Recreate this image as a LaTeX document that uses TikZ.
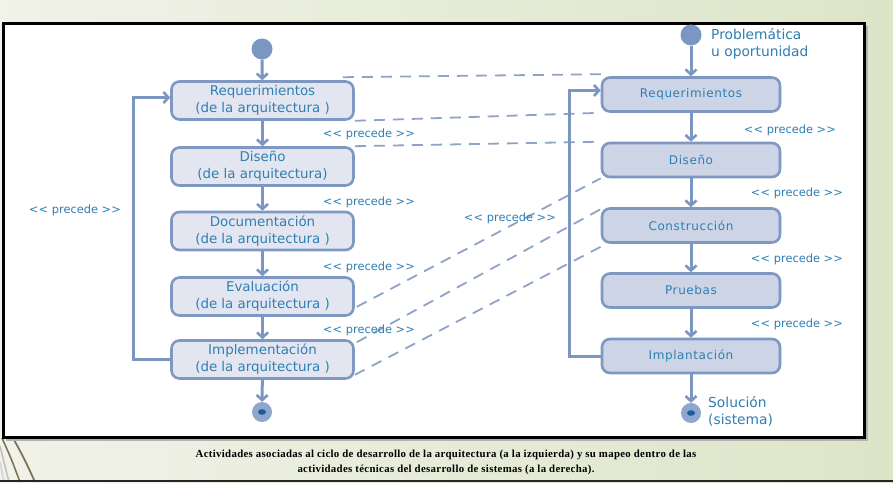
\documentclass[tikz,border=0pt]{standalone}
\usepackage{fontspec}
\setmainfont{DejaVu Sans}
\newfontfamily\boxfont{DejaVu Sans}
\newfontfamily\rboxfont[LetterSpace=5]{DejaVu Sans}
\newfontfamily\capfont[LetterSpace=3]{Liberation Serif}
\usetikzlibrary{arrows.meta,calc}
\definecolor{bord}{HTML}{7F98C2}
\definecolor{lfill}{HTML}{E3E6F1}
\definecolor{rfill}{HTML}{CCD4E6}
\definecolor{txt}{HTML}{2E7FB2}
\definecolor{arr}{HTML}{7A96C1}
\definecolor{dsh}{HTML}{8FA3C6}
\definecolor{endc}{HTML}{8FA7CC}
\definecolor{dotc}{HTML}{1D5B99}
\definecolor{bgL}{HTML}{F1F2E8}
\definecolor{bgR}{HTML}{DCE5C8}
\definecolor{deco}{HTML}{7F7458}
\newcommand\plbl{<\kern0.2pt<~precede~>\kern0.2pt>}
\begin{document}
\begin{tikzpicture}[x=1pt,y=-1pt,
  lbox/.style={draw=bord, line width=2.6pt, fill=lfill, rounded corners=8pt,
    minimum width=182pt, minimum height=38pt, align=center, text=txt,
    font=\boxfont\fontsize{13.4}{17}\selectfont, inner sep=0pt},
  rbox/.style={draw=bord, line width=2.6pt, fill=rfill, rounded corners=8pt,
    minimum width=178pt, minimum height=34pt, align=center, text=txt,
    font=\rboxfont\fontsize{12}{14}\selectfont, inner sep=0pt},
  flow/.style={draw=arr, line width=3pt,
    -{Straight Barb[length=5pt,width=11pt,line width=2.6pt]}},
  dashline/.style={draw=dsh, line width=1.8pt, dash pattern=on 11pt off 8pt},
  lbl/.style={text=txt, font=\boxfont\fontsize{11.4}{12}\selectfont, inner sep=0pt},
  ann/.style={text=txt, font=\boxfont\fontsize{13.8}{17}\selectfont, inner sep=0pt, align=left, anchor=west},
  startc/.style={circle, fill=arr, minimum size=21pt, inner sep=0pt},
  endcirc/.style={circle, fill=endc, minimum size=20pt, inner sep=0pt}
]
\useasboundingbox (0,0) rectangle (893,482);
% background
\shade[left color=bgL, right color=bgR] (0,0) rectangle (893,482);
% decorative arcs bottom left
\draw[black!15, line width=2pt] (0,462) .. controls (2,472) .. (4,482);
\draw[black!25, line width=1.5pt] (0,446) .. controls (5,464) .. (9,482);
\draw[deco, line width=1.6pt] (2,438) .. controls (11,458) .. (20,482);
\draw[deco, line width=1.8pt] (13,438) .. controls (24,458) .. (35,482);
% panel
\fill[black!30] (6,26) rectangle (867.5,440.5);
\filldraw[fill=white, draw=black, line width=3pt] (3.5,23.5) rectangle (864,437.5);
\fill[black!85] (0,479.5) rectangle (893,482);

% left column
\node[startc] (lstart) at (262,49) {};
\node[lbox] (lreq) at (262.5,100.5) {Requerimientos\\(de la arquitectura )};
\node[lbox] (ldis) at (262.5,166.5) {Diseño\\(de la arquitectura)};
\node[lbox] (ldoc) at (262.5,231) {Documentación\\(de la arquitectura )};
\node[lbox] (leva) at (262.5,296.5) {Evaluación\\(de la arquitectura )};
\node[lbox] (limp) at (262.5,359.5) {Implementación\\(de la arquitectura )};
\node[endcirc] (lend) at (262,412) {};
\fill[dotc] (lend.center) ellipse (4 and 2.8);

% right column
\node[startc] (rstart) at (691,35) {};
\node[rbox] (rreq) at (691,94.5) {Requerimientos};
\node[rbox] (rdis) at (691,160) {Diseño};
\node[rbox] (rcon) at (691,225.5) {Construcción};
\node[rbox] (rpru) at (691,290.5) {Pruebas};
\node[rbox] (rimp) at (691,356) {Implantación};
\node[endcirc] (rend) at (691,413) {};
\fill[dotc] (rend.center) ellipse (4 and 2.8);

% dashed mappings
\draw[dashline] ([shift={(-12,-3)}]lreq.north east) -- ([shift={(2,-2)}]rreq.north west);
\draw[dashline] (lreq.south east) -- (rreq.south west);
\draw[dashline] (ldis.north east) -- (rdis.north west);
\draw[dashline] ([shift={(2,-10)}]leva.south east) -- (rdis.south west);
\draw[dashline] ([shift={(2,3)}]limp.north east) -- ([shift={(0,2)}]rcon.north west);
\draw[dashline] ([shift={(0,-5)}]limp.south east) -- ([shift={(0,3)}]rcon.south west);

% left flow
\draw[flow] (lstart) -- (lreq);
\draw[flow] (lreq) -- (ldis);
\draw[flow] (ldis) -- (ldoc);
\draw[flow] (ldoc) -- (leva);
\draw[flow] (leva) -- (limp);
\draw[flow] (limp) -- (lend);
\draw[flow] (limp.west) -- ++(-37,0) |- ([yshift=3pt]lreq.west);

% right flow
\draw[flow] (rstart) -- (rreq);
\draw[flow] (rreq) -- (rdis);
\draw[flow] (rdis) -- (rcon);
\draw[flow] (rcon) -- (rpru);
\draw[flow] (rpru) -- (rimp);
\draw[flow] (rimp) -- (rend);
\draw[flow] (rimp.west) -- ++(-31,0) |- ([yshift=4pt]rreq.west);

% labels
\node[lbl] (pl0) at (75,210) {\plbl};
\node[lbl] (pl1) at (369,134) {\plbl};
\node[lbl] (pl2) at (369,202) {\plbl};
\node[lbl] (pl3) at (369,267) {\plbl};
\node[lbl] (pl4) at (369,330) {\plbl};
\node[lbl] (pm) at (510,218) {\plbl};
\node[lbl] (pr1) at (790,130) {\plbl};
\node[lbl] (pr2) at (797,193) {\plbl};
\node[lbl] (pr3) at (797,259) {\plbl};
\node[lbl] (pr4) at (797,324) {\plbl};
\node[ann] (prob) at (711,43.5) {Problemática\\u oportunidad};
\node[ann] (sol) at (708,411.5) {Solución\\(sistema)};

% caption
\node[font=\capfont\bfseries\fontsize{10.8}{15}\selectfont, align=center, inner sep=0pt] (cap) at (446,462.5)
 {Actividades asociadas al ciclo de desarrollo de la arquitectura (a la izquierda) y su mapeo dentro de las\\
  actividades técnicas del desarrollo de sistemas (a la derecha).};
\end{tikzpicture}
\end{document}
